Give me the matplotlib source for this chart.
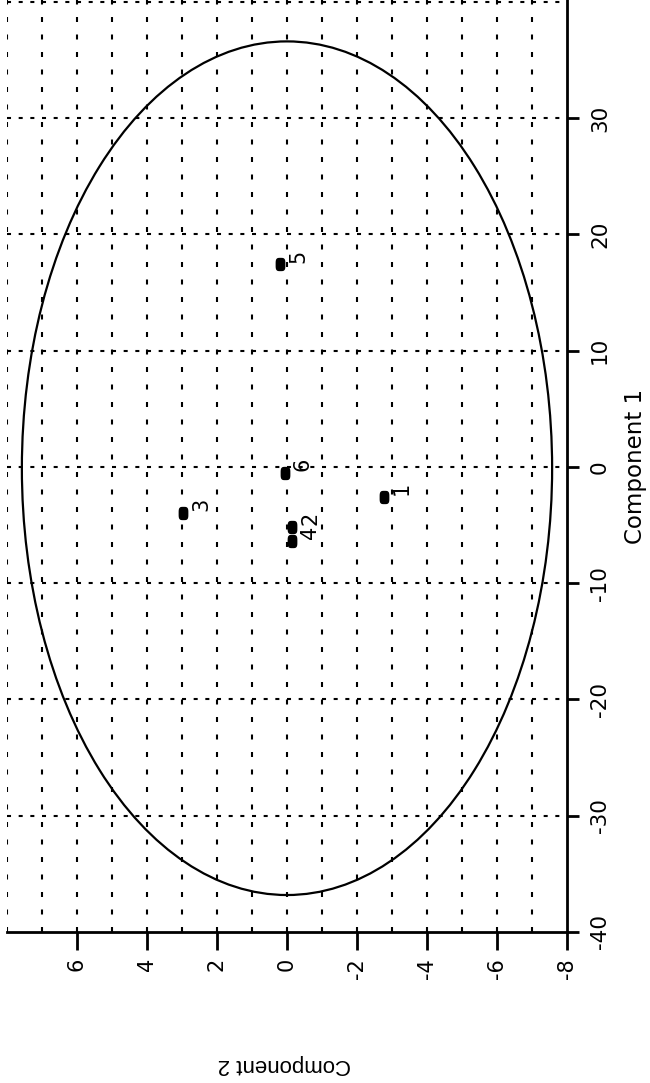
import numpy as np
import matplotlib.pyplot as plt
from matplotlib.patches import Ellipse
from matplotlib.path import Path

plt.rcParams['axes.unicode_minus'] = False
plt.rcParams['lines.scale_dashes'] = False

# Cluster members in the first two principal components
labels = ['1', '2', '3', '4', '5', '6']
comp1 = [-2.6, -5.2, -4.0, -6.4, 17.4, -0.5]
comp2 = [-2.76, -0.15, 2.97, -0.13, 0.19, 0.07]

# Spanning ellipse of the cluster (centre and semi-axes, comp2 / comp1)
ell_center = (0.0, -0.12)
ell_semi = (7.575, 36.7)

comp1_ticks = [-40, -30, -20, -10, 0, 10, 20, 30]
comp2_ticks = [-8, -6, -4, -2, 0, 2, 4, 6]
comp1_grid = [-30, -20, -10, 0, 10, 20, 30, 40]
comp2_grid = [-7, -6, -5, -4, -3, -2, -1, 0, 1, 2, 3, 4, 5, 6, 7, 8]

fig = plt.figure(figsize=(6.5, 10.83), dpi=100)
ax = fig.add_axes([7 / 650, 151 / 1083, 560 / 650, 932 / 1083])

# the plot is laid on its side: component 2 runs right-to-left, component 1 upward
ax.set_xlim(8, -8)
ax.set_ylim(-40, 40.14)

for v in comp2_grid:
    ax.axvline(v, color='black', lw=1.5, linestyle=(0, (3.6, 9)), zorder=1)
for h in comp1_grid:
    ax.axhline(h, color='black', lw=1.5, linestyle=(0, (2.9, 5.5)), zorder=1)

ax.add_patch(Ellipse(ell_center, 2 * ell_semi[0], 2 * ell_semi[1],
                     facecolor='none', edgecolor='black', lw=1.6, zorder=2))

# rounded block marker
t = np.linspace(0, 2 * np.pi, 60)
c, s = np.cos(t), np.sin(t)
verts = np.column_stack([0.7 * np.sign(c) * np.abs(c) ** 0.5,
                         np.sign(s) * np.abs(s) ** 0.5])
block = Path(verts, closed=True)
ax.scatter(comp2, comp1, marker=block, s=8.6 ** 2, color='black', zorder=3)

for lab, x, y in zip(labels, comp2, comp1):
    ax.annotate(lab, (x, y), xytext=(5.8, 1.4), textcoords='offset points',
                rotation=90, ha='left', va='bottom', fontsize=15,
                family='DejaVu Sans', zorder=4)

for side in ['top', 'left']:
    ax.spines[side].set_visible(False)
for side in ['bottom', 'right']:
    ax.spines[side].set_linewidth(2)

ax.yaxis.tick_right()
ax.set_xticks(comp2_ticks)
ax.set_yticks(comp1_ticks)
ax.tick_params(axis='x', direction='out', length=12.7, width=2, pad=6,
               labelsize=15, labelrotation=90)
ax.tick_params(axis='y', direction='out', length=8.6, width=2, pad=8,
               labelsize=15.5, labelrotation=90)
plt.setp(ax.get_yticklabels(), va='center', family='DejaVu Sans')
plt.setp(ax.get_xticklabels(), family='DejaVu Sans')

ax.yaxis.set_label_position('right')
ax.set_ylabel('Component 1', rotation=90, fontsize=16.5, family='DejaVu Sans',
              ha='center', va='center')
ax.yaxis.set_label_coords(1.123, 0.5)
ax.set_xlabel('Component 2', rotation=180, fontsize=16, family='Liberation Sans',
              ha='center', va='center')
ax.xaxis.set_label_coords(0.495, -0.1427)

fig.savefig('out.png', dpi=100)
